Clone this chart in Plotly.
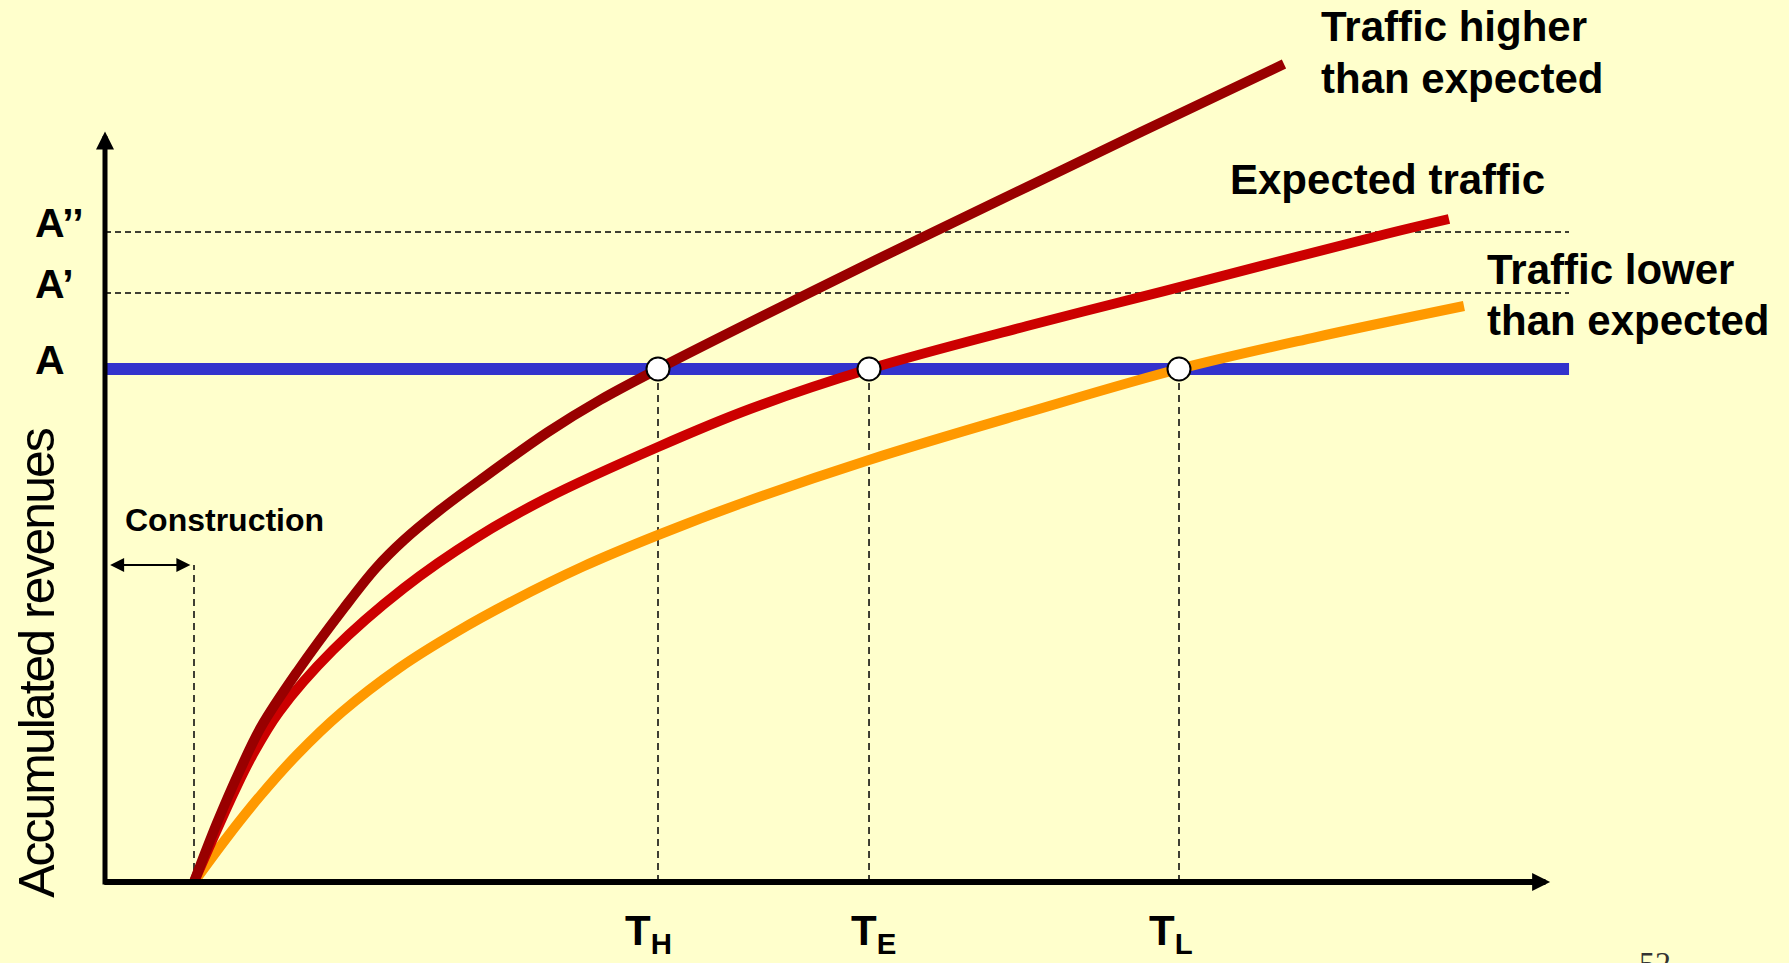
import plotly.graph_objects as go

# ---------------- data (time in years, accumulated revenue index with A = 100) -------------
t_high = [2.000, 2.517, 3.034, 3.506, 4.315, 5.371, 6.090, 6.719, 7.528, 8.404, 9.955, 11.124,
          12.427, 15.596, 18.157, 20.719, 23.281, 26.494]
r_high = [0, 11.50, 21.83, 30.21, 40.94, 53.41, 61.21, 66.67, 72.51, 78.17, 87.72, 93.96,
          100.0, 113.84, 124.76, 135.48, 146.20, 159.45]

t_exp = [2.000, 2.472, 2.921, 3.303, 3.910, 5.124, 6.719, 8.337, 9.933, 12.427, 14.494, 17.169,
         20.719, 23.798, 28.787, 30.202]
r_exp = [0, 9.36, 17.93, 24.56, 33.14, 45.22, 57.31, 67.06, 74.85, 84.80, 92.20, 100.0,
         108.38, 115.20, 126.32, 129.24]

t_low = [2.000, 2.764, 3.483, 4.315, 5.326, 6.607, 7.888, 9.169, 10.742, 12.427, 14.315, 17.169,
         20.719, 24.135, 27.124, 30.539]
r_low = [0, 8.95, 16.74, 24.81, 33.14, 41.70, 48.69, 54.81, 61.50, 67.64, 73.86, 82.28,
         91.52, 100.0, 106.04, 112.28]

level_names = ["A", "A\u2019", "A\u2019\u2019"]
level_values = [100.0, 114.8, 126.7]

breakeven_names = ["T<sub>H</sub>", "T<sub>E</sub>", "T<sub>L</sub>"]
breakeven_times = [12.427, 17.169, 24.135]

construction_end = 2.0
construction_arrow_level = 61.8
horizon_end = 32.9          # right end of the A lines
x_axis_end = 32.58
y_axis_end = 147.2

curve_labels = [["Traffic higher", "than expected"], ["Expected traffic"], ["Traffic lower", "than expected"]]

# ---------------- styling ----------------
BG = "#FFFFCC"
C_HIGH = "#990000"
C_EXP = "#CC0000"
C_LOW = "#FF9900"
C_BLUE = "#3333CC"
BOLD = dict(family="Liberation Sans, Arial, sans-serif", color="black", weight="bold")

fig = go.Figure()

# dashed reference levels A', A''
for v in level_values[1:]:
    fig.add_shape(type="line", xref="x", yref="y", x0=0, x1=horizon_end, y0=v, y1=v,
                  line=dict(color="black", width=1.5, dash="6px,4px"), layer="below")

# vertical dashed lines to break-even times
for tb in breakeven_times:
    fig.add_shape(type="line", xref="x", yref="y", x0=tb, x1=tb, y0=0, y1=level_values[0],
                  line=dict(color="black", width=1.5, dash="7px,5px"), layer="below")
# construction end
fig.add_shape(type="line", xref="x", yref="y", x0=construction_end, x1=construction_end,
              y0=0, y1=construction_arrow_level,
              line=dict(color="black", width=1.5, dash="7px,5px"), layer="below")

# A level (blue)
fig.add_trace(go.Scatter(x=[0, horizon_end], y=[level_values[0]] * 2, mode="lines",
                         line=dict(color=C_BLUE, width=12), hoverinfo="skip"))

# revenue curves
for tx, ry, col in [(t_low, r_low, C_LOW), (t_exp, r_exp, C_EXP), (t_high, r_high, C_HIGH)]:
    fig.add_trace(go.Scatter(x=tx, y=ry, mode="lines",
                             line=dict(color=col, width=10, shape="spline", smoothing=1.0),
                             hoverinfo="skip"))

# break-even markers
fig.add_trace(go.Scatter(x=breakeven_times, y=[level_values[0]] * 3, mode="markers",
                         marker=dict(size=23, color="white", line=dict(color="black", width=2)),
                         hoverinfo="skip"))

ann = []
# axes with arrows
ann.append(dict(x=0, y=y_axis_end, ax=0, ay=-0.8, xref="x", yref="y", axref="x", ayref="y",
                showarrow=True, arrowhead=2, arrowwidth=5, arrowsize=0.72, arrowcolor="black",
                standoff=4.7, text=""))
ann.append(dict(x=x_axis_end, y=0, ax=-0.05, ay=0, xref="x", yref="y", axref="x", ayref="y",
                showarrow=True, arrowhead=2, arrowwidth=6, arrowsize=0.6, arrowcolor="black",
                standoff=4.7, text=""))
# construction double arrow
ann.append(dict(x=construction_end, y=construction_arrow_level, ax=0, ay=construction_arrow_level,
                xref="x", yref="y", axref="x", ayref="y",
                showarrow=True, arrowhead=2, startarrowhead=2, arrowside="end+start",
                arrowwidth=2, arrowsize=1.4, startarrowsize=1.4, arrowcolor="black",
                standoff=3.6, startstandoff=3.6, text=""))
ann.append(dict(x=0.40, y=70.6, xref="x", yref="y", text="Construction", showarrow=False,
                xanchor="left", yanchor="middle", font=dict(BOLD, size=32)))

# level labels
for name, v in zip(level_names, level_values):
    ann.append(dict(x=-1.62, y=v, xref="x", yref="y", text=name, showarrow=False,
                    xanchor="left", yanchor="middle", yshift=9, font=dict(BOLD, size=41)))

# break-even labels
for name, tb, xs in zip(breakeven_names, breakeven_times, [-10, 4, -8]):
    ann.append(dict(x=tb, y=-5.65, xref="x", yref="y", text=name, showarrow=False,
                    xanchor="center", yanchor="top", xshift=xs, yshift=6, font=dict(BOLD, size=42)))

# curve labels
label_pos = [(27.28, [166.7, 156.7]), (25.24, [137.0]), (31.01, [119.3, 109.4])]
for lines, (lx, ys) in zip(curve_labels, label_pos):
    for txt, ly in zip(lines, ys):
        ann.append(dict(x=lx, y=ly, xref="x", yref="y", text=txt, showarrow=False,
                        xanchor="left", yanchor="middle", font=dict(BOLD, size=42)))

# y axis title (condensed look via negative letter spacing)
ann.append(dict(x=-1.53, y=42.7, xref="x", yref="y",
                text='<span style="letter-spacing:-2px">Accumulated revenues</span>',
                showarrow=False, textangle=-90, xanchor="center", yanchor="middle",
                font=dict(family="Liberation Sans, Arial, sans-serif", size=50, color="black")))
# page number
ann.append(dict(x=34.43, y=-11.9, xref="x", yref="y", text="52", showarrow=False,
                xanchor="left", yanchor="top",
                font=dict(family="Liberation Serif, Times New Roman, serif", size=32, color="#333333")))

fig.update_layout(
    width=1789, height=963,
    margin=dict(l=0, r=0, t=0, b=0),
    paper_bgcolor=BG, plot_bgcolor=BG,
    showlegend=False,
    xaxis=dict(range=[-2.3596, 37.843], visible=False, fixedrange=True),
    yaxis=dict(range=[-15.789, 171.93], visible=False, fixedrange=True),
    annotations=ann,
)

fig.write_html("out.html", config={"displayModeBar": False})
